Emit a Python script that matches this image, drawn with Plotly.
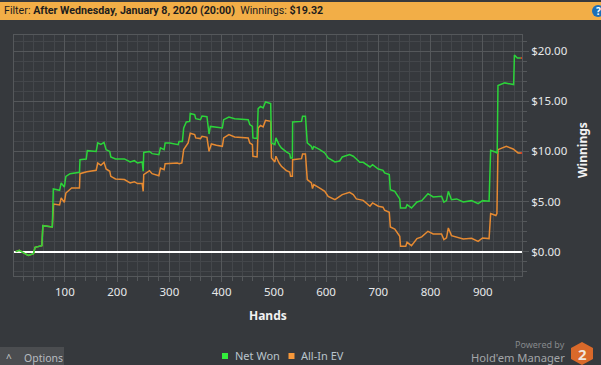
import plotly.graph_objects as go

net_hands = [6, 13, 21, 30, 40, 43, 56, 58, 76, 78, 90, 93, 99, 102, 110, 128, 129, 141, 143, 160, 163, 169, 175, 179, 186, 188, 197, 214, 225, 233, 239, 248, 250, 251, 262, 267, 280, 283, 290, 292, 301, 317, 318.5, 325, 327.5, 332.5, 339, 340, 348.5, 350.5, 359.5, 362.5, 372, 376, 378.5, 390, 401.5, 404, 414, 425, 451, 454, 459, 460, 468, 470, 474.5, 479.5, 484, 494, 495.5, 502, 504, 510, 514.5, 524, 530.5, 532, 535.5, 536, 553, 555, 560.5, 564, 572, 574, 576.5, 588, 597.5, 604, 617, 626, 631, 645, 652, 658, 664.5, 671, 684, 689, 700, 709, 712, 721, 723, 731.5, 741, 742.5, 752.5, 755, 763.5, 774, 783, 795, 805, 821, 825.5, 830.5, 834, 840, 850, 862.5, 878.5, 891, 899.5, 912, 915, 925, 927.5, 929, 942, 959, 960.5, 966, 974]
net_won = [0, 0.13, -0.13, -0.37, -0.2, 0.43, 0.6, 2.59, 2.46, 6.25, 6.12, 6.85, 6.45, 7.5, 7.78, 7.92, 9.18, 9.25, 10.08, 10.0, 10.85, 10.7, 10.9, 10.18, 10.0, 9.45, 9.25, 9.25, 8.95, 9.08, 8.85, 8.95, 8.02, 9.9, 10.0, 9.78, 9.68, 10.35, 10.18, 10.85, 10.85, 10.68, 11.0, 11.0, 12.34, 12.94, 13.0, 13.8, 13.67, 13.27, 13.17, 13.54, 13.47, 11.74, 12.5, 12.44, 12.34, 13.17, 13.44, 13.27, 13.17, 12.68, 12.5, 11.35, 11.28, 14.27, 14.5, 14.34, 14.94, 14.77, 10.85, 10.68, 11.35, 10.68, 10.35, 9.95, 9.75, 9.35, 9.35, 12.94, 13.0, 13.5, 13.5, 10.85, 10.5, 10.18, 10.5, 10.18, 9.85, 9.35, 8.95, 9.05, 9.45, 9.68, 9.52, 9.25, 8.92, 8.92, 8.45, 8.68, 8.25, 8.12, 7.85, 7.69, 6.19, 6.02, 5.26, 4.36, 4.36, 4.69, 4.36, 4.96, 5.09, 5.79, 5.46, 5.52, 4.93, 5.09, 6.02, 5.19, 5.26, 4.96, 5.09, 4.79, 5.09, 5.03, 10.12, 9.92, 9.85, 16.57, 16.84, 16.67, 19.63, 19.33, 19.32]

ev_hands = [6, 13, 21, 30, 40, 43, 56, 58, 76, 78.3, 90, 93, 99, 102, 113, 128, 129, 142, 160, 163, 169, 175, 179, 186, 188, 197, 214, 225, 233, 239, 248, 250, 251, 262, 267, 280, 283, 290, 292, 315, 319, 324, 327.5, 336, 340, 348.5, 350.5, 359.5, 362.5, 372, 376, 380.5, 390, 401.5, 404, 414, 425, 451, 454, 459, 460, 468, 470, 474.5, 479.5, 484, 494, 495.5, 502, 504, 510, 514.5, 524, 530.5, 532, 535.5, 536, 553, 555, 560.5, 564, 572, 574, 576.5, 588, 597.5, 604, 617, 631, 645, 652, 658, 671, 684, 689, 700, 709, 712, 721, 723, 731.5, 741, 742.5, 752.5, 755, 763.5, 774, 783, 795, 805, 821, 825.5, 830.5, 834, 840, 850, 862.5, 878.5, 891, 899.5, 912, 915, 925, 927, 929, 945, 958, 967.5, 974]
all_in_ev = [0, 0.13, -0.13, -0.37, -0.2, 0.43, 0.6, 2.59, 2.46, 4.75, 4.66, 5.36, 4.92, 5.85, 6.35, 6.35, 7.78, 7.98, 8.12, 8.85, 8.62, 8.92, 8.25, 8.02, 7.52, 7.25, 7.19, 6.85, 6.98, 6.79, 6.79, 6.02, 7.68, 8.08, 7.78, 7.58, 8.35, 8.18, 8.78, 8.85, 8.78, 8.85, 10.18, 10.85, 11.81, 11.68, 11.35, 11.28, 11.51, 11.41, 10.01, 10.75, 10.61, 10.51, 11.35, 11.68, 11.45, 11.35, 10.85, 10.68, 9.52, 9.45, 12.34, 12.6, 12.44, 13.1, 13.0, 9.35, 8.95, 9.52, 8.85, 8.52, 8.08, 7.95, 7.52, 7.52, 9.18, 9.28, 9.75, 9.75, 7.19, 6.85, 6.29, 6.69, 6.35, 6.02, 5.52, 5.19, 5.69, 5.92, 5.69, 5.26, 5.12, 4.53, 4.86, 4.53, 4.43, 4.13, 3.93, 2.46, 2.26, 1.53, 0.53, 0.53, 0.93, 0.6, 1.3, 1.47, 2.03, 1.76, 1.76, 1.2, 1.37, 2.36, 1.6, 1.47, 1.27, 1.33, 1.03, 1.37, 1.3, 3.79, 3.6, 3.8, 10.18, 10.51, 10.25, 9.85, 9.85]

x_ticks = [100, 200, 300, 400, 500, 600, 700, 800, 900]
y_ticks = [0, 5, 10, 15, 20]
y_labels = ["$0.00", "$5.00", "$10.00", "$15.00", "$20.00"]
series_names = ["Net Won", "All-In EV"]
header_text = "Filter: <b>After Wednesday, January 8, 2020 (20:00)</b>  Winnings: <b>$19.32</b>"

BG = "#36393d"
MAJOR = "#55585b"
MINOR = "#44474b"
GREEN = "#2cd43a"
ORANGE = "#e68a32"
FONT = "Noto Sans"

W, H = 601, 365
L, R, T, B = 14, 522, 35, 276

def px(x):
    return (x - L) / (R - L)

def py(y):
    return (B - y) / (B - T)

fig = go.Figure()
fig.add_trace(go.Scatter(x=ev_hands, y=all_in_ev, mode="lines", showlegend=False,
                         line=dict(color=ORANGE, width=1.5), name=series_names[1]))
fig.add_trace(go.Scatter(x=net_hands, y=net_won, mode="lines", showlegend=False,
                         line=dict(color=GREEN, width=1.5), name=series_names[0]))
fig.add_trace(go.Scatter(x=[net_hands[-1]], y=[net_won[-1]], mode="markers", showlegend=False,
                         marker=dict(color="#e03020", size=2), hoverinfo="skip"))
fig.add_trace(go.Scatter(x=[ev_hands[-1]], y=[all_in_ev[-1]], mode="markers", showlegend=False,
                         marker=dict(color="#e03020", size=2), hoverinfo="skip"))

shapes = [
    dict(type="rect", xref="paper", yref="paper", x0=px(0), x1=px(601), y0=py(2), y1=py(20),
         fillcolor="#f2ae47", line_width=0, layer="below"),
    dict(type="circle", xref="paper", yref="paper", x0=px(592), x1=px(604), y0=py(5), y1=py(17),
         fillcolor="#1b6fb8", line_width=0),
    dict(type="rect", xref="paper", yref="paper", x0=px(0), x1=px(64), y0=py(347), y1=py(365),
         fillcolor="#4b4d50", line_width=0, layer="below"),
    dict(type="rect", xref="paper", yref="paper", x0=px(222), x1=px(228), y0=py(353), y1=py(359),
         fillcolor="#33ee3c", line_width=0),
    dict(type="rect", xref="paper", yref="paper", x0=px(288.5), x1=px(294.5), y0=py(353), y1=py(359),
         fillcolor="#f7983a", line_width=0),
]
hex_pts = [(582, 342), (593, 348), (593, 359), (582, 365), (571, 359), (571, 348)]
path = "M " + " L ".join(f"{px(a):.5f} {py(b):.5f}" for a, b in hex_pts) + " Z"
shapes.append(dict(type="path", xref="paper", yref="paper", path=path,
                   fillcolor="#d9692a", line_width=0))


def note(x, y, text, size, color, anchor="left", angle=0, family=FONT):
    return dict(xref="paper", yref="paper", x=px(x), y=py(y), text=text, showarrow=False,
                xanchor=anchor, yanchor="middle", textangle=angle,
                font=dict(family=family, size=size, color=color))


annotations = [
    note(2, 11, header_text, 10.7, "#1d1d1d", family="Roboto"),
    note(598, 11, "<b>?</b>", 10, "#ffffff", "center"),
    note(268, 315, "<b>Hands</b>", 12, "#f2f2f2", "center"),
    note(582, 150, "<b>Winnings</b>", 12, "#f2f2f2", "center", -90),
    note(9, 358, "^", 10, "#c8cacc", "center"),
    note(22, 358, "Options", 10.5, "#b8bcc0"),
    note(233, 355, series_names[0], 11, "#b9c4cc"),
    note(299, 355, series_names[1], 11, "#b9c4cc"),
    note(567, 345, "Powered by", 9, "#85888b", "right"),
    note(567, 357, "Hold'em Manager", 11.2, "#a3a6a9", "right"),
    note(582, 354, "<b>2</b>", 15, "#f0e6dc", "center"),
]

fig.update_layout(
    width=W, height=H, autosize=False,
    paper_bgcolor=BG, plot_bgcolor=BG,
    margin=dict(l=L, r=W - R, t=T, b=H - B, pad=0),
    shapes=shapes, annotations=annotations,
    showlegend=False, hovermode=False,
    xaxis=dict(range=[2.7, 975], tickmode="array", tickvals=x_ticks, ticktext=[str(v) for v in x_ticks],
               showgrid=True, gridcolor=MAJOR, gridwidth=1,
               showline=True, linecolor=MAJOR, linewidth=1, mirror=True,
               ticks="outside", ticklen=5, tickcolor=MAJOR, zeroline=False,
               tickfont=dict(family=FONT, size=11.5, color="#e6e8ea"),
               minor=dict(dtick=20, tick0=0, showgrid=True, gridcolor=MINOR, gridwidth=1,
                          ticks="outside", ticklen=4, tickcolor=MAJOR)),
    yaxis=dict(range=[-2.43, 21.62], side="right", tickmode="array", tickvals=y_ticks, ticktext=y_labels,
               showgrid=True, gridcolor=MAJOR, gridwidth=1,
               showline=True, linecolor=MAJOR, linewidth=1, mirror=True,
               ticks="outside", ticklen=6, tickcolor=MAJOR,
               zeroline=True, zerolinecolor="#ffffff", zerolinewidth=2,
               tickfont=dict(family=FONT, size=11.5, color="#e6e8ea"),
               minor=dict(dtick=1, tick0=0, showgrid=True, gridcolor=MINOR, gridwidth=1,
                          ticks="outside", ticklen=4, tickcolor=MAJOR)),
)

fig.write_html("out.html", config=dict(displayModeBar=False),
               post_script="document.documentElement.style.background='#36393d';document.body.style.margin='0';document.body.style.overflow='hidden';")
